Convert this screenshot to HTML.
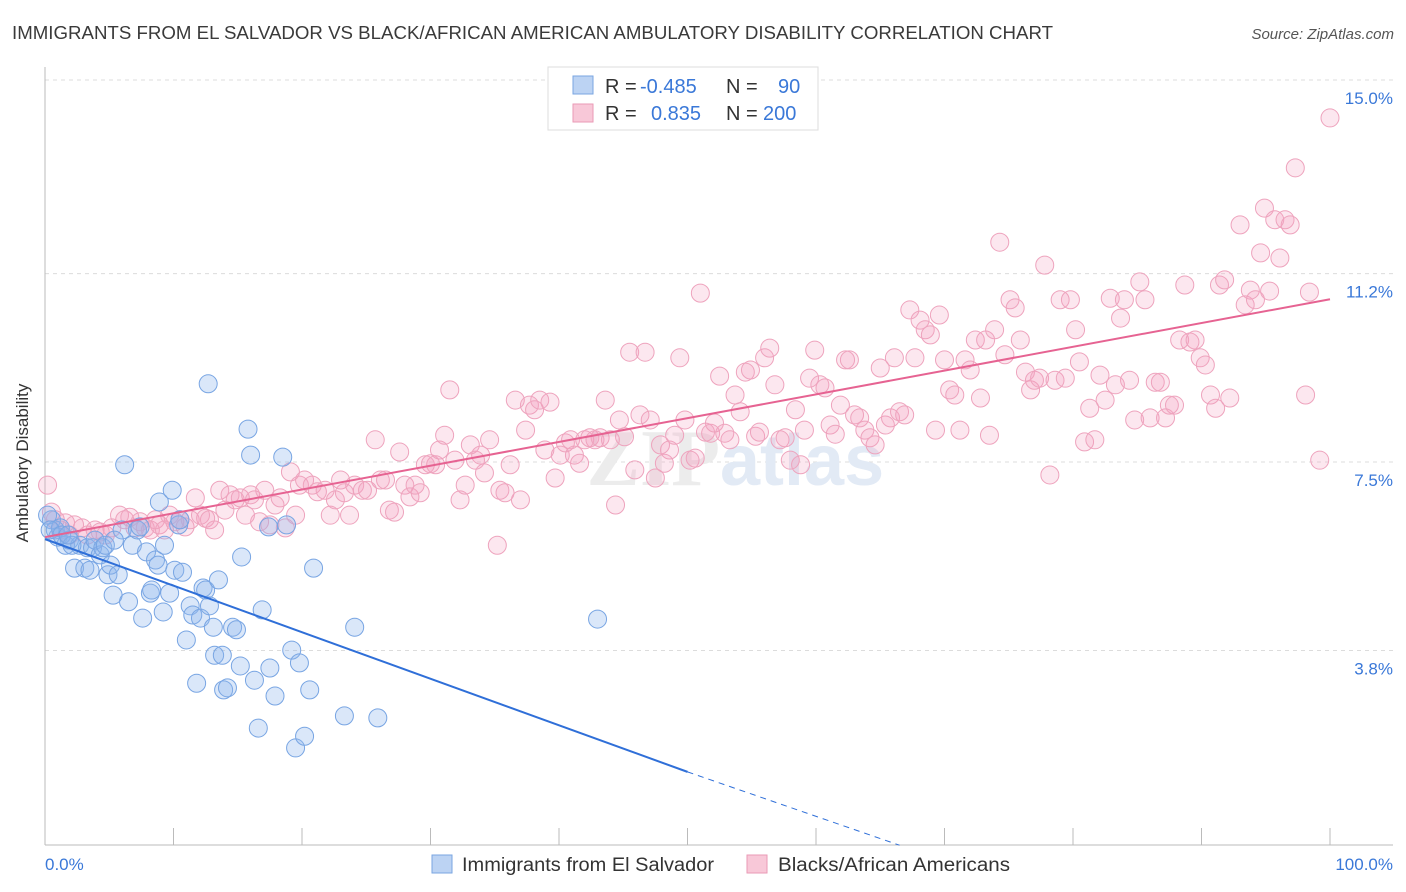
<!DOCTYPE html>
<html><head><meta charset="utf-8">
<style>
body{margin:0;background:#fff;font-family:"Liberation Sans",sans-serif;}
svg{display:block}
</style></head>
<body>
<svg width="1406" height="892" xmlns="http://www.w3.org/2000/svg">
<text x="12" y="39" font-size="18.5" fill="#3a3a3a" textLength="1041" lengthAdjust="spacingAndGlyphs">IMMIGRANTS FROM EL SALVADOR VS BLACK/AFRICAN AMERICAN AMBULATORY DISABILITY CORRELATION CHART</text>
<text x="1394" y="39" font-size="15" fill="#555" font-style="italic" text-anchor="end">Source: ZipAtlas.com</text>
<g id="grid"></g>
<text x="720" y="485" font-size="80" font-family="Liberation Serif,serif" fill="#ececec" text-anchor="end" font-weight="bold">ZIP</text>
<text x="720" y="485" font-size="72" fill="#e2eaf5" font-weight="bold">atlas</text>
<g id="marks"></g>
<text x="20" y="455" font-size="17" fill="#333" text-anchor="middle" transform="rotate(-90 28 455)">Ambulatory Disability</text>
<text x="45" y="870" font-size="17" fill="#3a78d8">0.0%</text>
<text x="1393" y="870" font-size="17" fill="#3a78d8" text-anchor="end">100.0%</text>
<g>
<rect x="548" y="67" width="270" height="63" fill="#fff" stroke="#ddd"/>
<rect x="573" y="76" width="20" height="18" fill="#bcd3f3" stroke="#7aa6e2"/>
<rect x="573" y="104" width="20" height="18" fill="#f8c8d8" stroke="#ea9ab6"/>
<text x="605" y="93" font-size="20" fill="#333">R = <tspan x="640" fill="#3a78d8">-0.485</tspan><tspan x="726">N =</tspan><tspan x="778" fill="#3a78d8">90</tspan></text>
<text x="605" y="120" font-size="20" fill="#333">R = <tspan x="651" fill="#3a78d8">0.835</tspan><tspan x="726">N =</tspan><tspan x="763" fill="#3a78d8">200</tspan></text>
</g>
<g>
<rect x="432" y="855" width="20" height="18" fill="#bcd3f3" stroke="#7aa6e2"/>
<text x="462" y="871" font-size="19" fill="#333" textLength="252" lengthAdjust="spacingAndGlyphs">Immigrants from El Salvador</text>
<rect x="747" y="855" width="20" height="18" fill="#f8c8d8" stroke="#ea9ab6"/>
<text x="778" y="871" font-size="19" fill="#333" textLength="232" lengthAdjust="spacingAndGlyphs">Blacks/African Americans</text>
</g>
</svg>
<script>
const yTickValues=[15.0,11.2,7.5,3.8];
const yTickLabels=["15.0%","11.2%","7.5%","3.8%"];
const xTickValues=[0,10,20,30,40,50,60,70,80,90,100];
const blueTrend=[[0,6.32],[50,1.75]];
const blueTrendDash=[[50,1.75],[66.5,0.31]];
const pinkTrend=[[0,6.36],[100,11.03]];
const bluePoints=[[0.5,6.70],[0.8,6.50],[1.0,6.36],[1.2,6.54],[1.6,6.20],[1.9,6.30],[2.3,5.75],[2.7,6.20],[3.1,5.75],[3.3,6.15],[3.7,6.15],[3.9,6.30],[4.3,6.01],[4.5,6.15],[4.9,5.62],[5.1,5.81],[5.3,5.22],[5.7,5.62],[6.0,6.50],[6.2,7.78],[6.5,5.09],[6.8,6.20],[7.2,6.50],[7.6,4.77],[7.9,6.07],[8.2,5.26],[8.3,5.32],[8.6,5.91],[8.8,5.81],[8.9,7.05],[9.2,4.89],[9.3,6.20],[9.7,5.26],[9.9,7.28],[10.1,5.71],[10.4,6.60],[10.5,6.70],[10.7,5.67],[11.0,4.34],[11.3,5.01],[11.5,4.83],[11.8,3.49],[12.1,4.77],[12.3,5.36],[12.5,5.32],[12.7,9.37],[12.8,5.01],[13.1,4.59],[13.2,4.04],[13.5,5.52],[13.8,4.04],[13.9,3.36],[14.2,3.40],[14.6,4.59],[14.9,4.54],[15.2,3.83],[15.3,5.97],[15.8,8.48],[16.0,7.97],[16.3,3.55],[16.6,2.61],[16.9,4.93],[17.4,6.56],[17.5,3.79],[17.9,3.24],[18.5,7.93],[18.8,6.60],[19.2,4.14],[19.5,2.22],[19.8,3.89],[20.2,2.45],[20.6,3.36],[20.9,5.75],[23.3,2.85],[24.1,4.59],[25.9,2.81],[43.0,4.75],[0.2,6.79],[0.4,6.50],[1.3,6.40],[2.1,6.20],[3.5,5.71],[7.4,6.56],[4.7,6.20],[5.4,6.30],[1.8,6.40]];
const pinkPoints=[[0.2,7.38],[0.5,6.85],[0.8,6.70],[1.2,6.50],[1.6,6.64],[1.9,6.40],[2.3,6.60],[2.9,6.54],[3.3,6.40],[3.9,6.50],[4.3,6.46],[4.7,6.40],[5.2,6.54],[5.8,6.79],[6.2,6.70],[6.6,6.75],[7.0,6.54],[7.4,6.66],[7.8,6.54],[8.2,6.50],[8.6,6.70],[8.9,6.60],[9.3,6.50],[9.7,6.79],[10.1,6.66],[10.5,6.70],[10.9,6.56],[11.3,6.70],[11.7,7.13],[12.1,6.79],[12.5,6.73],[12.8,6.70],[13.2,6.50],[13.6,7.28],[14.0,6.89],[14.4,7.19],[14.8,7.09],[15.2,7.13],[15.6,6.79],[16.0,7.19],[16.3,7.09],[16.7,6.66],[17.1,7.28],[17.5,6.60],[17.9,6.99],[18.3,7.13],[18.7,6.54],[19.1,7.64],[19.5,6.79],[19.8,7.38],[20.2,7.48],[20.8,7.38],[21.2,7.25],[21.8,7.28],[22.2,6.79],[22.6,7.09],[23.0,7.48],[23.3,7.23],[23.7,6.79],[24.1,7.38],[24.7,7.28],[25.1,7.28],[25.7,8.27],[26.1,7.48],[26.5,7.48],[26.8,6.89],[27.2,6.85],[27.6,8.03],[28.0,7.38],[28.4,7.15],[28.8,7.38],[29.2,7.23],[29.6,7.78],[30.0,7.80],[30.4,7.78],[30.7,8.07],[31.1,8.36],[31.5,9.25],[31.9,7.87],[32.3,7.09],[32.7,7.38],[33.1,8.17],[33.5,7.87],[33.9,7.97],[34.2,7.62],[34.6,8.27],[35.2,6.20],[35.4,7.28],[35.8,7.23],[36.2,7.78],[36.6,9.05],[37.0,7.09],[37.4,8.46],[37.7,8.95],[38.1,8.86],[38.5,9.05],[38.9,8.07],[39.3,9.01],[39.7,7.52],[40.1,7.97],[40.5,8.21],[40.9,8.27],[41.2,7.97],[41.6,7.81],[42.0,8.27],[42.4,8.31],[42.8,8.27],[43.2,8.31],[43.6,9.05],[44.0,8.27],[44.4,6.99],[44.7,8.66],[45.1,8.33],[45.5,9.99],[45.9,7.68],[46.3,8.76],[46.7,9.99],[47.1,8.66],[47.5,7.52],[47.9,8.17],[48.2,7.81],[48.6,8.07],[49.0,8.36],[49.4,9.88],[49.8,8.66],[50.2,7.87],[50.6,7.91],[51.0,11.15],[51.4,8.42],[51.8,8.40],[52.1,8.60],[52.5,9.52],[52.9,8.40],[53.3,8.27],[53.7,9.15],[54.1,8.82],[54.5,9.60],[54.9,9.64],[55.3,8.34],[55.6,8.42],[56.0,9.88],[56.4,10.07],[56.8,9.35],[57.2,8.27],[57.6,8.31],[58.0,7.87],[58.4,8.86],[58.8,7.78],[59.1,8.46],[59.5,9.48],[59.9,10.03],[60.3,9.35],[60.7,9.29],[61.1,8.56],[61.5,8.38],[61.9,8.95],[62.3,9.84],[62.6,9.84],[63.0,8.76],[63.4,8.70],[63.8,8.46],[64.2,8.31],[64.6,8.17],[65.0,9.68],[65.4,8.56],[65.8,8.70],[66.1,9.88],[66.5,8.82],[66.9,8.76],[67.3,10.82],[67.7,9.88],[68.1,10.62],[68.5,10.43],[68.9,10.33],[69.3,8.46],[69.6,10.72],[70.0,9.84],[70.4,9.25],[70.8,9.15],[71.2,8.46],[71.6,9.84],[72.0,9.64],[72.4,10.23],[72.8,9.09],[73.2,10.23],[73.5,8.36],[73.9,10.43],[74.3,12.15],[74.7,9.94],[75.1,11.02],[75.5,10.86],[75.9,10.23],[76.3,9.60],[76.7,9.25],[77.0,9.44],[77.4,9.48],[77.8,11.70],[78.2,7.58],[78.6,9.44],[79.0,11.02],[79.4,9.48],[79.8,11.02],[80.2,10.43],[80.5,9.80],[80.9,8.23],[81.3,8.89],[81.7,8.27],[82.1,9.54],[82.5,9.05],[82.9,11.05],[83.3,9.35],[83.7,10.66],[84.0,11.02],[84.4,9.44],[84.8,8.66],[85.2,11.37],[85.6,11.02],[86.0,8.70],[86.4,9.40],[86.8,9.40],[87.2,8.70],[87.5,8.95],[87.9,8.95],[88.3,10.23],[88.7,11.31],[89.1,10.19],[89.5,10.23],[89.9,9.88],[90.3,9.74],[90.7,9.15],[91.1,8.89],[91.4,11.31],[91.8,11.41],[92.2,9.09],[93.0,12.49],[93.4,10.92],[93.8,11.21],[94.2,11.02],[94.6,11.94],[94.9,12.82],[95.3,11.19],[95.7,12.59],[96.1,11.84],[96.5,12.59],[96.9,12.49],[97.3,13.61],[98.1,9.15],[98.4,11.17],[99.2,7.87],[100,14.59]];

const NS="http://www.w3.org/2000/svg";
const X0=45,X1=1330;
function xScale(v){return X0+(X1-X0)*v/100;}
function yScale(v){return 861-v*50.93;}
const grid=document.getElementById('grid');
const marks=document.getElementById('marks');
function mk(tag,attrs,parent){const e=document.createElementNS(NS,tag);for(const k in attrs)e.setAttribute(k,attrs[k]);parent.appendChild(e);return e;}

yTickValues.forEach((v,i)=>{
  const y=yScale(v)-17;
  const l=mk('line',{x1:X0,x2:1393,y1:y,y2:y,stroke:'#dcdcdc','stroke-dasharray':'4,4'},grid);
  
  
  const t=mk('text',{x:1393,y:y+24,'font-size':17,fill:'#3a78d8','text-anchor':'end'},grid);
  t.textContent=yTickLabels[i];
  
  
});
const ax=mk('line',{x1:X0,x2:1393,y1:845,y2:845,stroke:'#bbb'},grid);


const ay=mk('line',{x1:X0,x2:X0,y1:67,y2:845,stroke:'#bbb'},grid);


xTickValues.forEach(v=>{
  const t=mk('line',{x1:xScale(v),x2:xScale(v),y1:845,y2:828,stroke:'#bbb'},grid);
  
  
});

pinkPoints.forEach(p=>{
  const c=mk('circle',{cx:xScale(p[0]),cy:yScale(p[1]),r:9,fill:'rgba(244,160,190,0.25)',stroke:'#eea3bd','stroke-width':1},marks);
  
  
});
bluePoints.forEach(p=>{
  const c=mk('circle',{cx:xScale(p[0]),cy:yScale(p[1]),r:9,fill:'rgba(140,180,235,0.32)',stroke:'#78a5e3','stroke-width':1},marks);
  
  
});
const bl=mk('line',{x1:xScale(blueTrend[0][0]),y1:yScale(blueTrend[0][1]),x2:xScale(blueTrend[1][0]),y2:yScale(blueTrend[1][1]),stroke:'#2f6fd8','stroke-width':2},marks);


const bd=mk('line',{x1:xScale(blueTrendDash[0][0]),y1:yScale(blueTrendDash[0][1]),x2:xScale(blueTrendDash[1][0]),y2:yScale(blueTrendDash[1][1]),stroke:'#2f6fd8','stroke-width':1,'stroke-dasharray':'6,5'},marks);


const pl=mk('line',{x1:xScale(pinkTrend[0][0]),y1:yScale(pinkTrend[0][1]),x2:xScale(pinkTrend[1][0]),y2:yScale(pinkTrend[1][1]),stroke:'#e66392','stroke-width':2},marks);


</script>
</body></html>
